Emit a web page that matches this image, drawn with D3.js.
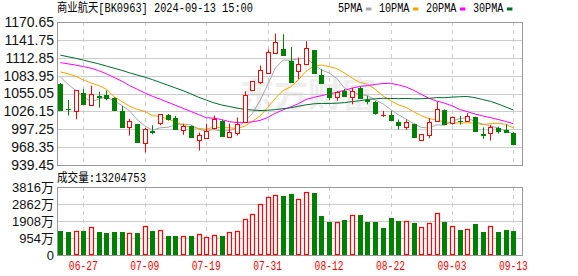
<!DOCTYPE html>
<html>
<head>
<meta charset="utf-8">
<script src="https://cdn.jsdelivr.net/npm/d3@7"></script>
<style>
  body { margin: 0; background: #fff; }
</style>
</head>
<body>
<div id="chart"></div>
<script>
// trading days shown (06-24 .. 09-13)
const dates = ["06-24","06-25","06-26","06-27","06-28","07-01","07-02","07-03","07-04","07-05",
  "07-08","07-09","07-10","07-11","07-12","07-15","07-16","07-17","07-18","07-19",
  "07-22","07-23","07-24","07-25","07-26","07-29","07-30","07-31","08-01","08-02",
  "08-05","08-06","08-07","08-08","08-09","08-12","08-13","08-14","08-15","08-16",
  "08-19","08-20","08-21","08-22","08-23","08-26","08-27","08-28","08-29","08-30",
  "09-02","09-03","09-04","09-05","09-06","09-09","09-10","09-11","09-12","09-13"];

const open = [1070.8,1030.0,1026.3,1055.8,1035.9,1050.4,1052.6,1047.2,1026.8,1000.5,
  1005.9,974.7,995.0,1007.5,1020.4,1015.5,996.8,1002.7,979.6,983.9,
  999.4,1010.7,984.4,990.9,1009.6,1060.1,1073.0,1088.5,1121.3,1127.7,
  1107.9,1090.7,1102.5,1125.0,1084.8,1063.8,1048.8,1059.5,1048.8,1064.4,
  1044.5,1040.8,1019.8,1019.8,1009.1,1001.6,1005.3,979.6,987.6,1010.7,
  1028.4,1007.5,1011.3,1010.7,1016.6,989.8,990.9,998.9,996.2,990.9];
const high = [1071.9,1044.5,1060.5,1062.2,1067.6,1057.9,1060.1,1048.8,1034.9,1013.9,
  1006.0,999.4,1003.7,1021.9,1022.0,1018.8,1005.9,1003.5,991.9,1006.4,
  1019.3,1012.3,1006.4,1016.1,1058.5,1075.0,1100.3,1126.1,1151.9,1150.8,
  1130.4,1113.2,1139.5,1125.5,1094.4,1064.0,1059.0,1062.2,1063.8,1066.0,
  1051.0,1042.9,1026.8,1026.8,1012.9,1012.9,1006.4,989.5,1015.0,1041.8,
  1029.5,1017.7,1018.8,1023.0,1017.7,1000.0,1004.3,1001.6,1005.3,992.5];
const low = [1028.0,1019.3,1013.4,1037.0,1035.5,1032.2,1044.0,1027.3,1000.0,987.1,
  975.8,959.7,989.2,1003.7,1011.2,997.0,988.2,985.0,962.9,983.3,
  997.8,986.0,983.9,987.1,1009.0,1059.0,1070.3,1086.4,1121.0,1115.9,
  1074.0,1078.3,1100.9,1087.5,1071.0,1044.5,1043.4,1051.0,1037.5,1047.0,
  1037.5,1020.9,1017.1,1011.2,996.7,996.2,984.4,979.0,982.8,1010.0,
  1004.8,1004.8,1004.8,1010.0,994.0,981.7,979.0,990.3,992.0,972.0];
const close = [1028.4,1029.4,1060.1,1037.5,1053.6,1049.8,1047.2,1028.4,1001.1,1010.2,
  976.9,997.3,992.3,1021.4,1013.9,997.8,1003.2,985.5,988.2,995.1,
  1013.4,987.1,992.5,1005.3,1053.1,1074.6,1092.3,1121.8,1139.0,1117.5,
  1074.1,1102.5,1129.3,1088.5,1071.4,1049.9,1057.9,1051.5,1058.5,1047.2,
  1043.4,1023.6,1019.8,1012.3,1004.3,1009.6,985.5,989.2,1008.6,1029.5,
  1006.4,1016.6,1010.2,1018.2,995.1,988.7,1000.5,995.1,992.5,972.6];

// volume in 万
const volume = [1340,1284,1340,1340,1545,1284,1229,1284,1284,1229,
  1229,1601,1340,1377,1061,1061,1042,1061,1154,987,
  1098,1061,1266,1322,2048,2327,2885,3276,3388,3313,
  3406,3164,3555,3462,2178,1843,1824,1955,2271,2234,
  1843,1843,1508,2066,1899,1880,1787,1545,1768,2383,
  1843,1601,1396,1433,1731,1284,1601,1284,1396,1320];

const ma5 = [1082,1070,1060,1050,1041.8,1046.1,1049.6,1043.3,1036.0,1027.3,
  1012.8,1002.8,995.6,999.6,1000.4,1004.5,1005.7,1004.4,997.7,994.0,
  997.1,993.9,995.3,998.7,1010.3,1022.5,1043.6,1069.4,1096.2,1109.0,
  1108.9,1111.0,1112.5,1102.4,1093.2,1088.3,1079.4,1063.8,1057.8,1053.0,
  1051.7,1044.8,1038.5,1029.3,1020.7,1013.9,1006.3,1000.2,999.4,1004.5,
  1003.8,1010.1,1014.3,1016.2,1009.3,1005.8,1002.5,999.5,994.4,989.9];
const ma10 = [1090,1087,1083,1077,1072,1068,1062,1050,1042,1034.6,
  1029.4,1026.2,1019.4,1017.8,1013.9,1008.7,1004.3,1000.0,998.7,997.2,
  1000.8,999.8,999.8,998.2,1002.1,1009.8,1018.7,1032.3,1047.4,1059.7,
  1065.7,1077.3,1091.0,1099.3,1101.1,1098.6,1095.2,1088.2,1080.1,1073.1,
  1070.0,1062.1,1051.2,1043.6,1036.8,1032.8,1025.6,1019.3,1014.4,1012.6,
  1008.9,1008.2,1007.2,1007.8,1006.9,1004.8,1006.3,1006.9,1005.3,999.6];
const ma20 = [1105,1103,1101,1098.5,1096,1092,1087,1081,1075,1068,
  1062,1056,1050.5,1046,1041,1036,1031,1026,1021,1015.9,
  1015.1,1013.0,1009.6,1008.0,1008.0,1009.3,1011.5,1016.2,1023.1,1028.5,
  1033.3,1038.6,1045.4,1048.8,1051.6,1054.2,1057.0,1060.3,1063.8,1066.4,
  1067.9,1069.7,1071.1,1071.5,1069.0,1065.7,1060.4,1053.8,1047.3,1042.9,
  1039.5,1035.2,1029.2,1025.7,1021.9,1018.8,1016.0,1013.1,1009.9,1006.1];
const ma30 = [1117,1114.5,1112,1109,1106,1103,1099.5,1096,1092.5,1088.5,
  1085,1081.5,1077.5,1073,1068.5,1064,1059.5,1054.5,1049,1044.5,
  1040,1036.5,1034,1031.5,1029.5,1028.3,1027.5,1028,1029,1030.5,
  1032.0,1034.4,1036.7,1038.4,1039.0,1039.0,1039.4,1040.2,1042.1,1043.3,
  1045.5,1046.4,1047.3,1047.0,1046.7,1047.1,1046.5,1046.6,1047.3,1048.4,
  1048.2,1049.2,1049.8,1050.2,1048.3,1045.4,1042.4,1038.1,1033.2,1028.4];

const priceTicks = [1170.65,1141.75,1112.85,1083.95,1055.05,1026.15,997.25,968.35,939.45];
const volTicks = [3816,2862,1908,954,0];
const dateTicks = ["06-27","07-09","07-19","07-31","08-12","08-22","09-03","09-13"];

const maSeries = [
  { name: "5PMA", values: ma5, color: "#a6a6a6" },
  { name: "10PMA", values: ma10, color: "#f5a300" },
  { name: "20PMA", values: ma20, color: "#ff00ff" },
  { name: "30PMA", values: ma30, color: "#006b2d" }
];

const W = 578, H = 276;
const left = 57, right = 522;
const pTop = 22, pBot = 165, vTop = 187, vBot = 255;
const RED = "#ff0000", GREEN = "#008000";
const monoCJK = "'Liberation Mono', 'Noto Sans CJK SC', monospace";

const svg = d3.select("#chart").append("svg")
  .attr("width", W)
  .attr("height", H)
  .style("font-family", "'Liberation Sans', Arial, sans-serif");

const x = d3.scalePoint().domain(dates).range([60.3, 513.4]);
const y = d3.scaleLinear().domain([939.45, 1170.65]).range([pBot, pTop]);
const yv = d3.scaleLinear().domain([0, 3816]).range([vBot, vTop]);

// watermark
svg.append("text")
  .attr("x", 240).attr("y", 107)
  .attr("font-family", "'Noto Sans CJK SC'")
  .attr("font-size", 34)
  .attr("font-weight", "bold")
  .attr("fill", "#eeeeee")
  .text("东方财富");

// price grid + labels
const gy = svg.append("g")
  .attr("transform", `translate(${left},0)`)
  .call(d3.axisLeft(y).tickValues(priceTicks).tickSize(-(right - left))
    .tickPadding(3).tickFormat(d3.format(".2f")));
gy.select(".domain").remove();
gy.selectAll("line").attr("stroke", "#cccccc").attr("shape-rendering", "crispEdges");
gy.selectAll("text").attr("font-size", 14).attr("fill", "#111")
  .attr("font-family", "'Liberation Sans', Arial, sans-serif");

// volume grid + labels
const gv = svg.append("g")
  .attr("transform", `translate(${left},0)`)
  .call(d3.axisLeft(yv).tickValues(volTicks).tickSize(-(right - left))
    .tickPadding(3).tickFormat(d => d ? d + "万" : "0"));
gv.select(".domain").remove();
gv.selectAll("line").attr("stroke", "#cccccc").attr("shape-rendering", "crispEdges");
gv.selectAll("text").attr("font-size", 13).attr("fill", "#111")
  .attr("font-family", "'Liberation Sans', 'Noto Sans CJK SC', sans-serif");

// vertical dashed grid
[[pTop, pBot], [vTop, vBot]].forEach(([t, b]) => {
  svg.append("g").selectAll("line")
    .data(dateTicks)
    .join("line")
    .attr("x1", d => Math.round(x(d)) + 0.5)
    .attr("x2", d => Math.round(x(d)) + 0.5)
    .attr("y1", t).attr("y2", b)
    .attr("stroke", "#cccccc")
    .attr("stroke-dasharray", "4,4");
});

// date labels
svg.append("g").selectAll("text")
  .data(dateTicks)
  .join("text")
  .attr("x", d => x(d))
  .attr("y", 270)
  .attr("text-anchor", "middle")
  .attr("font-family", monoCJK)
  .attr("font-size", 12)
  .attr("fill", RED)
  .attr("textLength", 29)
  .attr("lengthAdjust", "spacingAndGlyphs")
  .text(d => d);

// panel borders
[[pTop, pBot], [vTop, vBot]].forEach(([t, b]) => {
  svg.append("rect")
    .attr("x", left + 0.5).attr("y", t + 0.5)
    .attr("width", right - left).attr("height", b - t)
    .attr("fill", "none")
    .attr("stroke", "#999999")
    .attr("shape-rendering", "crispEdges");
});

// moving averages
const line = d3.line().x((d, i) => x(dates[i])).y(d => y(d));
svg.append("g").selectAll("path")
  .data(maSeries)
  .join("path")
  .attr("d", s => line(s.values))
  .attr("fill", "none")
  .attr("stroke", s => s.color)
  .attr("stroke-width", 1);

// candles
const candles = dates.map((d, i) => ({ d, o: open[i], h: high[i], l: low[i], c: close[i], v: volume[i] }));
const gc = svg.append("g");
candles.forEach(k => {
  const cx = Math.round(x(k.d));
  const up = k.c >= k.o;
  const col = up ? RED : GREEN;
  gc.append("line")
    .attr("x1", cx + 0.5).attr("x2", cx + 0.5)
    .attr("y1", y(k.h)).attr("y2", y(k.l))
    .attr("stroke", col).attr("stroke-width", 1);
  const yt = Math.round(y(Math.max(k.o, k.c)));
  const yb = Math.round(y(Math.min(k.o, k.c)));
  if (yb - yt < 1) {
    gc.append("line")
      .attr("x1", cx - 2).attr("x2", cx + 3)
      .attr("y1", yt + 0.5).attr("y2", yt + 0.5)
      .attr("stroke", col);
  } else if (up) {
    gc.append("rect")
      .attr("x", cx - 1.5).attr("y", yt + 0.5)
      .attr("width", 4).attr("height", yb - yt)
      .attr("fill", "#fff").attr("stroke", col);
  } else {
    gc.append("rect")
      .attr("x", cx - 2).attr("y", yt)
      .attr("width", 5).attr("height", yb - yt + 1)
      .attr("fill", col);
  }
});

// volume bars
const gb = svg.append("g");
candles.forEach(k => {
  const cx = Math.round(x(k.d));
  const yt = Math.round(yv(k.v));
  if (k.c > k.o) {
    gb.append("rect")
      .attr("x", cx - 1.5).attr("y", yt + 0.5)
      .attr("width", 4).attr("height", vBot - yt - 1)
      .attr("fill", "#fff").attr("stroke", RED).attr("stroke-width", 1.2);
  } else {
    gb.append("rect")
      .attr("x", cx - 2).attr("y", yt)
      .attr("width", 5).attr("height", vBot - yt)
      .attr("fill", GREEN);
  }
});

// title
svg.append("text")
  .attr("x", left).attr("y", 12)
  .attr("font-family", monoCJK)
  .attr("font-size", 12.5)
  .attr("fill", "#000")
  .attr("textLength", 196)
  .attr("lengthAdjust", "spacingAndGlyphs")
  .text("商业航天[BK0963] 2024-09-13 15:00");

// legend
let lx = 338;
maSeries.forEach(s => {
  const tw = s.name.length * 6.1;
  svg.append("text")
    .attr("x", lx).attr("y", 12)
    .attr("font-family", monoCJK)
    .attr("font-size", 12)
    .attr("textLength", tw)
    .attr("lengthAdjust", "spacingAndGlyphs")
    .text(s.name);
  svg.append("rect")
    .attr("x", lx + tw + 3.5).attr("y", 7.5)
    .attr("width", 5.5).attr("height", 3)
    .attr("fill", s.color);
  lx += tw + 3.5 + 5.5 + 7.5;
});

// volume caption
svg.append("text")
  .attr("x", left).attr("y", 182)
  .attr("font-family", monoCJK)
  .attr("font-size", 12.5)
  .attr("textLength", 89)
  .attr("lengthAdjust", "spacingAndGlyphs")
  .text("成交量:13204753");
</script>
</body>
</html>
